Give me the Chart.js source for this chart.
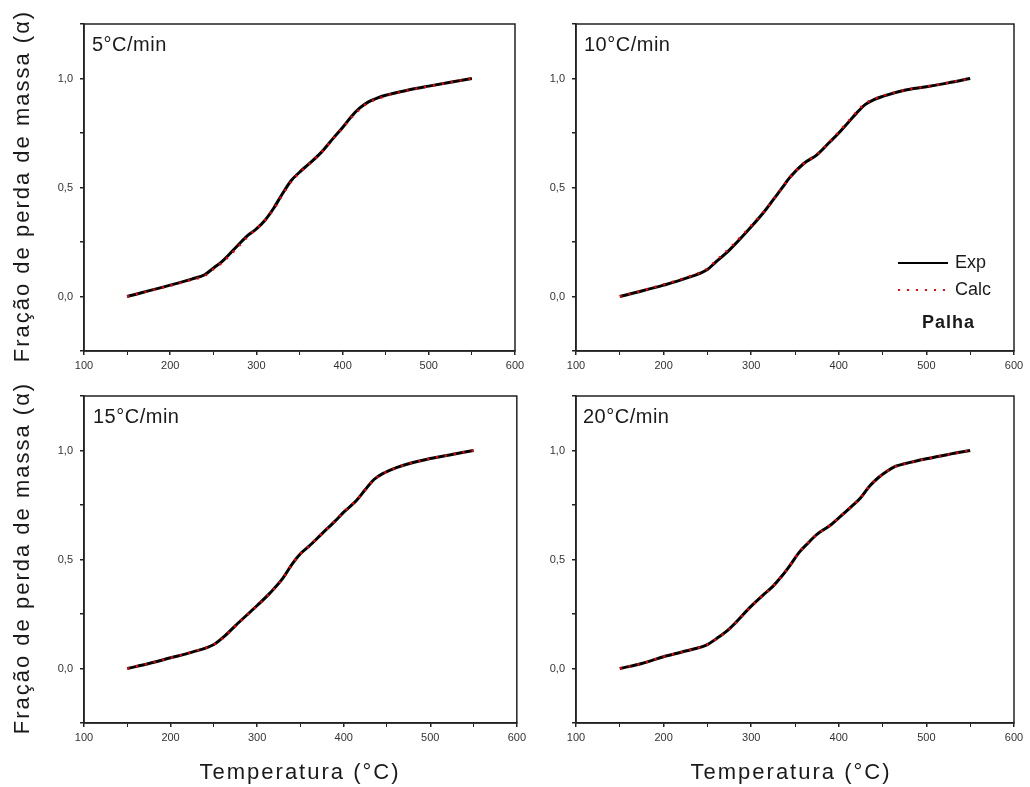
<!DOCTYPE html>
<html>
<head>
<meta charset="utf-8">
<script src="https://cdn.jsdelivr.net/npm/chart.js@4/dist/chart.umd.min.js"></script>
<style>
  body { margin: 0; background: #fff; font-family: "Liberation Sans", Arial, sans-serif; }
  #wrap { position: relative; width: 1030px; height: 787px; overflow: hidden; }
  canvas { position: absolute; }
  .txt { position: absolute; color: #1a1a1a; white-space: nowrap; }
  .ytitle { font-size: 22px; letter-spacing: 2px; transform: translate(-50%, -50%) rotate(-90deg); }
  .xtitle { font-size: 22px; letter-spacing: 2px; transform: translate(-50%, -50%); }
  .rate { font-size: 20px; letter-spacing: 0.5px; }
  .leg { font-size: 18px; }
  .dots { position: absolute; height: 2px; background: repeating-linear-gradient(to right, #ff0000 0 2px, transparent 2px 9px); }
</style>
</head>
<body>
<div id="wrap">
  <canvas id="c5" width="530" height="375" style="left:0;top:0"></canvas>
  <canvas id="c10" width="500" height="375" style="left:530px;top:0"></canvas>
  <canvas id="c15" width="530" height="412" style="left:0;top:375px"></canvas>
  <canvas id="c20" width="500" height="412" style="left:530px;top:375px"></canvas>

  <div class="txt ytitle" style="left:22px;top:186px">Fração de perda de massa (α)</div>
  <div class="txt ytitle" style="left:22px;top:558px">Fração de perda de massa (α)</div>
  <div class="txt xtitle" style="left:300px;top:772px">Temperatura (°C)</div>
  <div class="txt xtitle" style="left:791px;top:772px">Temperatura (°C)</div>

  <div class="txt rate" style="left:92px;top:33px">5°C/min</div>
  <div class="txt rate" style="left:584px;top:33px">10°C/min</div>
  <div class="txt rate" style="left:93px;top:405px">15°C/min</div>
  <div class="txt rate" style="left:583px;top:405px">20°C/min</div>

  <div style="position:absolute;left:898px;top:262px;width:50px;border-top:2.5px solid #000"></div>
  <div class="txt leg" style="left:955px;top:252px">Exp</div>
  <div class="dots" style="left:898px;top:289px;width:50px"></div>
  <div class="txt leg" style="left:955px;top:279px">Calc</div>
  <div class="txt" style="left:922px;top:312px;font-size:18px;font-weight:bold;letter-spacing:1px">Palha</div>
</div>

<script>
// 5 °C/min
var temp5 = [150, 200, 225, 240, 250, 260, 275, 290, 300, 310, 320, 330, 340, 350, 360, 375, 390, 400, 410, 420, 430, 440, 450, 475, 500, 525, 550];
var exp5  = [0, 0.052, 0.08, 0.10, 0.13, 0.16, 0.22, 0.28, 0.31, 0.35, 0.405, 0.47, 0.53, 0.57, 0.605, 0.66, 0.73, 0.775, 0.825, 0.865, 0.893, 0.91, 0.923, 0.946, 0.965, 0.983, 1.0];
var calc5 = [0, 0.050, 0.077, 0.095, 0.125, 0.155, 0.212, 0.275, 0.31, 0.35, 0.40, 0.465, 0.525, 0.568, 0.603, 0.66, 0.728, 0.773, 0.82, 0.86, 0.89, 0.905, 0.92, 0.945, 0.964, 0.983, 1.0];

// 10 °C/min
var temp10 = [150, 175, 200, 225, 250, 260, 275, 300, 315, 325, 335, 345, 360, 375, 390, 400, 410, 420, 430, 440, 450, 475, 500, 525, 550];
var exp10  = [0, 0.025, 0.052, 0.083, 0.124, 0.16, 0.213, 0.32, 0.39, 0.443, 0.497, 0.55, 0.61, 0.65, 0.71, 0.75, 0.795, 0.84, 0.88, 0.903, 0.918, 0.946, 0.962, 0.98, 1.0];
var calc10 = [0, 0.027, 0.055, 0.086, 0.128, 0.165, 0.22, 0.325, 0.392, 0.443, 0.497, 0.55, 0.61, 0.652, 0.712, 0.755, 0.80, 0.845, 0.885, 0.905, 0.92, 0.947, 0.963, 0.981, 1.0];

// 15 °C/min
var temp15 = [150, 175, 200, 225, 250, 260, 275, 300, 315, 330, 340, 350, 360, 375, 390, 400, 415, 425, 435, 445, 460, 475, 500, 525, 550];
var exp15  = [0, 0.023, 0.049, 0.075, 0.11, 0.14, 0.197, 0.289, 0.347, 0.416, 0.477, 0.526, 0.561, 0.619, 0.676, 0.717, 0.772, 0.821, 0.867, 0.894, 0.92, 0.939, 0.963, 0.982, 1.0];
var calc15 = [0, 0.023, 0.049, 0.076, 0.11, 0.138, 0.195, 0.287, 0.345, 0.415, 0.475, 0.525, 0.562, 0.62, 0.677, 0.718, 0.773, 0.82, 0.865, 0.893, 0.92, 0.94, 0.963, 0.982, 1.0];

// 20 °C/min
var temp20 = [150, 175, 200, 225, 250, 260, 275, 300, 315, 325, 335, 345, 355, 365, 375, 390, 400, 415, 425, 435, 445, 455, 465, 475, 500, 525, 550];
var exp20  = [0, 0.023, 0.054, 0.08, 0.11, 0.136, 0.182, 0.286, 0.342, 0.378, 0.424, 0.477, 0.534, 0.576, 0.615, 0.656, 0.691, 0.745, 0.783, 0.836, 0.875, 0.905, 0.928, 0.939, 0.962, 0.982, 1.0];
var calc20 = [0, 0.023, 0.054, 0.08, 0.11, 0.135, 0.18, 0.285, 0.342, 0.378, 0.424, 0.478, 0.535, 0.577, 0.615, 0.656, 0.692, 0.746, 0.784, 0.836, 0.875, 0.905, 0.927, 0.939, 0.962, 0.982, 1.0];

var xTicks = [100, 200, 300, 400, 500, 600];
var yTicks = [0, 0.5, 1.0];

var framePlugin = {
  id: 'frame',
  afterDraw: function(chart) {
    var a = chart.chartArea;
    var ctx = chart.ctx;
    ctx.save();
    ctx.strokeStyle = "#222";
    ctx.lineWidth = 1.5;
    ctx.strokeRect(a.left, a.top, a.right - a.left, a.bottom - a.top);
    ctx.restore();
  }
};

function toPoints(xs, ys) {
  var pts = [];
  for (var i = 0; i < xs.length; i++) {
    pts.push({x: xs[i], y: ys[i]});
  }
  return pts;
}

function setupPanel(id, temps, expVals, calcVals, yWidth, pad) {
  var ctx = document.getElementById(id).getContext('2d');
  new Chart(ctx, {
    type: 'line',
    data: {
      datasets: [{
        label: 'Exp',
        data: toPoints(temps, expVals),
        borderColor: "#000",
        borderWidth: 3,
        pointRadius: 0,
        cubicInterpolationMode: 'monotone',
        order: 2
      }, {
        label: 'Calc',
        data: toPoints(temps, calcVals),
        borderColor: "#ff0000",
        borderWidth: 2.5,
        borderDash: [2, 7],
        pointRadius: 0,
        cubicInterpolationMode: 'monotone',
        order: 1
      }]
    },
    options: {
      responsive: false,
      animation: false,
      layout: { padding: pad },
      plugins: {
        legend: { display: false },
        tooltip: { enabled: false }
      },
      scales: {
        x: {
          type: 'linear',
          min: 100,
          max: 600,
          afterFit: function(scale) { scale.height = 24; },
          grid: {
            drawOnChartArea: false,
            tickLength: 4,
            color: "#222",
            lineWidth: function(c) { return c.tick && xTicks.indexOf(c.tick.value) >= 0 ? 1.5 : 1; }
          },
          border: { color: "#222", width: 1.5 },
          afterBuildTicks: function(scale) {
            var t = [];
            for (var v = 100; v <= 600; v += 50) t.push({value: v});
            scale.ticks = t;
          },
          ticks: {
            autoSkip: false,
            maxRotation: 0,
            padding: 4,
            color: "#333",
            font: { family: "'Liberation Sans', Arial", size: 11 },
            callback: function(v) { return xTicks.indexOf(v) >= 0 ? String(v) : ''; }
          }
        },
        y: {
          min: -0.25,
          max: 1.25,
          afterFit: function(scale) { scale.width = yWidth; },
          grid: { drawOnChartArea: false, tickLength: 4, color: "#222", lineWidth: 1.5 },
          border: { color: "#222", width: 1.5 },
          afterBuildTicks: function(scale) {
            var t = [];
            for (var k = -1; k <= 5; k++) t.push({value: k * 0.25});
            scale.ticks = t;
          },
          ticks: {
            autoSkip: false,
            padding: 7,
            color: "#333",
            font: { family: "'Liberation Sans', Arial", size: 11 },
            callback: function(v) {
              for (var i = 0; i < yTicks.length; i++) {
                if (Math.abs(v - yTicks[i]) < 1e-6) return yTicks[i].toFixed(1).replace('.', ',');
              }
              return '';
            }
          }
        }
      }
    },
    plugins: [framePlugin]
  });
}

setupPanel("c5", temp5, exp5, calc5, 84, {top: 24, right: 15, left: 0, bottom: 0});
setupPanel("c10", temp10, exp10, calc10, 46, {top: 24, right: 16, left: 0, bottom: 0});
setupPanel("c15", temp15, exp15, calc15, 84, {top: 21, right: 13, left: 0, bottom: 40});
setupPanel("c20", temp20, exp20, calc20, 46, {top: 21, right: 16, left: 0, bottom: 40});
</script>
</body>
</html>
